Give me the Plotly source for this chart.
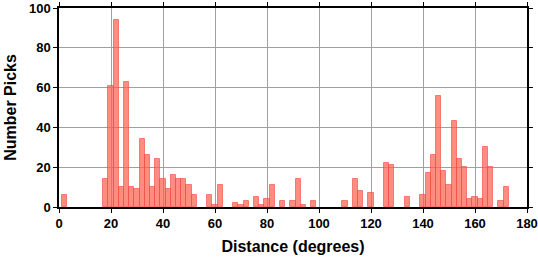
import plotly.graph_objects as go

# bin centers (degrees), 2-degree bins
centers = [2, 18, 20, 22, 24, 26, 28, 30, 32, 34, 36, 38, 40, 42, 44, 46, 48, 50, 52,
           58, 60, 62, 68, 70, 72, 76, 78, 80, 82, 86, 90, 92, 94, 98,
           110, 114, 116, 120, 126, 128, 134, 140, 142, 144, 146, 148, 150, 152,
           154, 156, 158, 160, 162, 164, 166, 170, 172]
counts = [6, 14, 61, 94, 10, 63, 10, 9, 34, 26, 10, 24, 14, 9, 16, 14, 14, 11, 6,
          6, 1, 11, 2, 1, 3, 5, 1, 4, 11, 3, 3, 14, 1, 3,
          3, 14, 8, 7, 22, 21, 5, 6, 17, 26, 56, 18, 11, 43,
          24, 20, 4, 5, 4, 30, 20, 3, 10]
bin_width = 2
x_ticks = [0, 20, 40, 60, 80, 100, 120, 140, 160, 180]
y_ticks = [0, 20, 40, 60, 80, 100]

fig = go.Figure()
fig.add_trace(go.Bar(
    x=centers, y=counts, width=[bin_width] * len(centers),
    marker=dict(color="rgba(255,95,80,0.72)",
                line=dict(color="rgba(240,70,60,0.6)", width=1)),
))

font = dict(family="Liberation Sans, Arial, sans-serif", size=13, color="black")
axis_common = dict(
    showline=True, linecolor="black", linewidth=1.5, mirror="ticks",
    ticks="outside", ticklen=4, tickcolor="black", tickwidth=1,
    showgrid=True, gridcolor="#a0a0a0", gridwidth=1, zeroline=False,
    automargin=False, ticklabeloverflow="allow",
    tickfont=dict(family="Liberation Sans, Arial, sans-serif", size=13, color="black", weight="bold"),
)
fig.update_xaxes(range=[0, 180], tickvals=x_ticks,
                 title=dict(text="<b>Distance (degrees)</b>", font=dict(size=16), standoff=10),
                 **axis_common)
fig.update_yaxes(range=[0, 100], tickvals=y_ticks,
                 title=dict(text="<b>Number Picks</b>", font=dict(size=16), standoff=8),
                 **axis_common)
fig.update_layout(
    width=538, height=258,
    margin=dict(l=59, r=11, t=8, b=51),
    plot_bgcolor="white", paper_bgcolor="white",
    bargap=0, showlegend=False, font=font,
)
fig.write_html("out.html")
